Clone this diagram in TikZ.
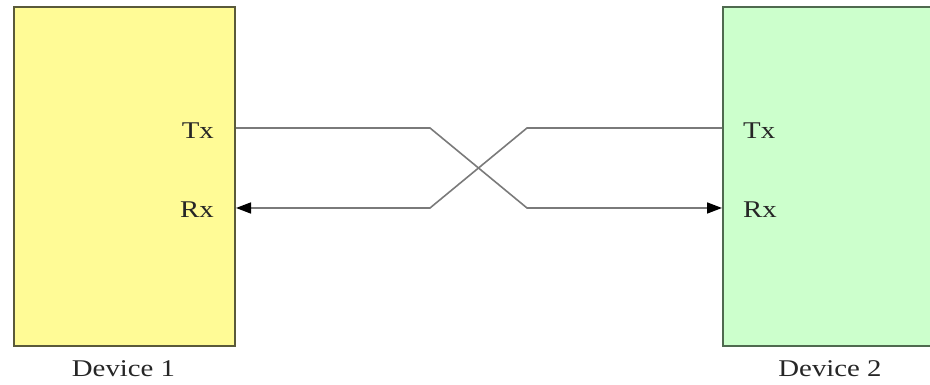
\documentclass[tikz,border=0pt]{standalone}
\usepackage{fontspec}
\setmainfont{Liberation Serif}
\newfontfamily\labfont[FakeStretch=1.2]{Liberation Serif}
\usetikzlibrary{arrows.meta}
\definecolor{boxyellow}{HTML}{FFFB96}
\definecolor{boxgreen}{HTML}{CCFFCC}
\definecolor{edgeyellow}{HTML}{5A5A3A}
\definecolor{edgegreen}{HTML}{4F6A4F}
\definecolor{wire}{HTML}{7A7A7A}
\tikzset{
  device/.style={draw, line width=2pt, minimum width=221pt, minimum height=339pt, inner sep=0pt, anchor=south west},
  lab/.style={font=\labfont\fontsize{24}{28}\selectfont, inner sep=0pt, text=black!85},
  wireline/.style={draw=wire, line width=1.6pt},
  tip/.style={-{Triangle[length=15pt 0,width=11pt 0,color=black]}}
}
\begin{document}
\begin{tikzpicture}[x=1pt,y=1pt]
\useasboundingbox (0,0) rectangle (930,385);
\clip (0,0) rectangle (930,385);
\node[device, fill=boxyellow, draw=edgeyellow] (d1) at (13,38) {};
\node[device, fill=boxgreen, draw=edgegreen, minimum width=218pt] (d2) at (722,38) {};
\node[lab, anchor=base] (n1) at (123.5,8) {Device 1};
\node[lab, anchor=base] (n2) at (830,8) {Device 2};
\node[lab, anchor=base east] (tx1) at (214,246) {Tx};
\node[lab, anchor=base east] (rx1) at (214,167) {Rx};
\node[lab, anchor=base west] (tx2) at (743,246) {Tx};
\node[lab, anchor=base west] (rx2) at (743,167) {Rx};
\coordinate (a1) at (d1.east |- 0,257);
\coordinate (a2) at (430,257);
\coordinate (a3) at (527,177);
\coordinate (a4) at (d2.west |- 0,177);
\coordinate (b1) at (d2.west |- 0,257);
\coordinate (b2) at (527,257);
\coordinate (b3) at (430,177);
\coordinate (b4) at (d1.east |- 0,177);
\draw[wireline, tip] (a1) -- (a2) -- (a3) -- (a4);
\draw[wireline, tip] (b1) -- (b2) -- (b3) -- (b4);
\end{tikzpicture}
\end{document}
